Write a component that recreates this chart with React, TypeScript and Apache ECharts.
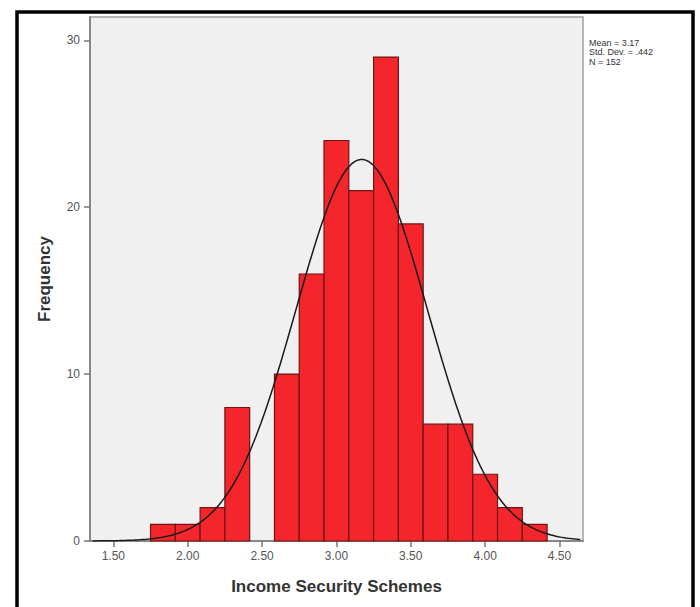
import React, { useEffect, useRef } from "react";
import * as echarts from "echarts";

// Histogram bins
const binStart = 1.75;
const binWidth = 1 / 6;
const counts = [1, 1, 2, 8, 0, 10, 16, 24, 21, 29, 19, 7, 7, 4, 2, 1];

// Summary statistics shown in the chart
const mean = 3.17;
const stdDev = 0.442;
const n = 152;

const xTicks = [1.5, 2.0, 2.5, 3.0, 3.5, 4.0, 4.5];
const yTicks = [0, 10, 20, 30];
const xMin = 1.343;
const xMax = 4.658;
const yMax = 31.4;

export default function App() {
  const ref = useRef<HTMLDivElement>(null);
  useEffect(() => {
    if (!ref.current) return;
    const chart = echarts.init(ref.current, null, { renderer: "svg" });

    const barData = counts.map((c, i) => [binStart + i * binWidth, binStart + (i + 1) * binWidth, c]);

    // Fitted normal curve defined by the displayed mean / std dev / N
    const curve: number[][] = [];
    const steps = 200;
    for (let i = 0; i <= steps; i++) {
      const x = 1.36 + ((4.64 - 1.36) * i) / steps;
      const z = (x - mean) / stdDev;
      const y = (n * binWidth) / (stdDev * Math.sqrt(2 * Math.PI)) * Math.exp(-0.5 * z * z);
      curve.push([x, y]);
    }

    const labelColor = "#555";
    chart.setOption({
      animation: false,
      backgroundColor: "#ffffff",
      grid: {
        left: 90,
        right: 117,
        top: 17,
        bottom: 66,
        show: true,
        backgroundColor: "#f0f0f0",
        borderColor: "#a0a0a0",
        borderWidth: 1.5,
      },
      xAxis: {
        type: "value",
        min: xMin,
        max: xMax,
        name: "Income Security Schemes",
        nameLocation: "middle",
        nameGap: 37,
        nameTextStyle: { fontFamily: "Liberation Sans, Arial", fontWeight: "bold", fontSize: 17, color: "#333" },
        axisLine: { show: true, onZero: false, lineStyle: { color: "#888", width: 2 } },
        axisTick: { show: true, length: 6, customValues: xTicks, lineStyle: { color: "#777", width: 1.5 } },
        axisLabel: {
          customValues: xTicks,
          formatter: (v: number) => v.toFixed(2),
          fontFamily: "Liberation Sans, Arial",
          fontSize: 12,
          color: labelColor,
          margin: 9,
        },
        splitLine: { show: false },
      },
      yAxis: {
        type: "value",
        min: 0,
        max: yMax,
        name: "Frequency",
        nameLocation: "middle",
        nameRotate: 90,
        nameGap: 37,
        nameTextStyle: { fontFamily: "Liberation Sans, Arial", fontWeight: "bold", fontSize: 17, color: "#333" },
        axisLine: { show: true, lineStyle: { color: "#888", width: 2 } },
        axisTick: { show: true, length: 6, customValues: yTicks, lineStyle: { color: "#777", width: 1.5 } },
        axisLabel: {
          customValues: yTicks,
          fontFamily: "Liberation Sans, Arial",
          fontSize: 12,
          color: labelColor,
          margin: 10,
        },
        splitLine: { show: false },
      },
      series: [
        {
          type: "custom",
          data: barData,
          encode: { x: [0, 1], y: 2 },
          renderItem: (params: any, api: any) => {
            const x0 = api.value(0);
            const x1 = api.value(1);
            const c = api.value(2);
            if (!c) return null;
            const p0 = api.coord([x0, c]);
            const p1 = api.coord([x1, 0]);
            return {
              type: "rect",
              shape: { x: p0[0], y: p0[1], width: p1[0] - p0[0], height: p1[1] - p0[1] },
              style: { fill: "#f4262b", stroke: "#6e1414", lineWidth: 1.2 },
            };
          },
          z: 2,
        },
        {
          type: "line",
          data: curve,
          showSymbol: false,
          smooth: false,
          lineStyle: { color: "#1a1a1a", width: 1.5 },
          z: 3,
        },
      ],
      graphic: [
        {
          type: "text",
          left: 589,
          top: 38,
          style: {
            text: `Mean = ${mean.toFixed(2)}\nStd. Dev. = ${stdDev.toFixed(3).replace(/^0/, "")}\nN = ${n}`,
            fontFamily: "Liberation Sans, Arial",
            fontSize: 9,
            lineHeight: 9.5,
            fill: "#333",
          },
        },
        {
          type: "rect",
          shape: { x: 17, y: 12, width: 676, height: 700 },
          style: { fill: "none", stroke: "#000", lineWidth: 3.5 },
          silent: true,
        },
      ],
    });
    return () => chart.dispose();
  }, []);

  return <div ref={ref} style={{ position: "fixed", left: 0, top: 0, width: 700, height: 607 }} />;
}
